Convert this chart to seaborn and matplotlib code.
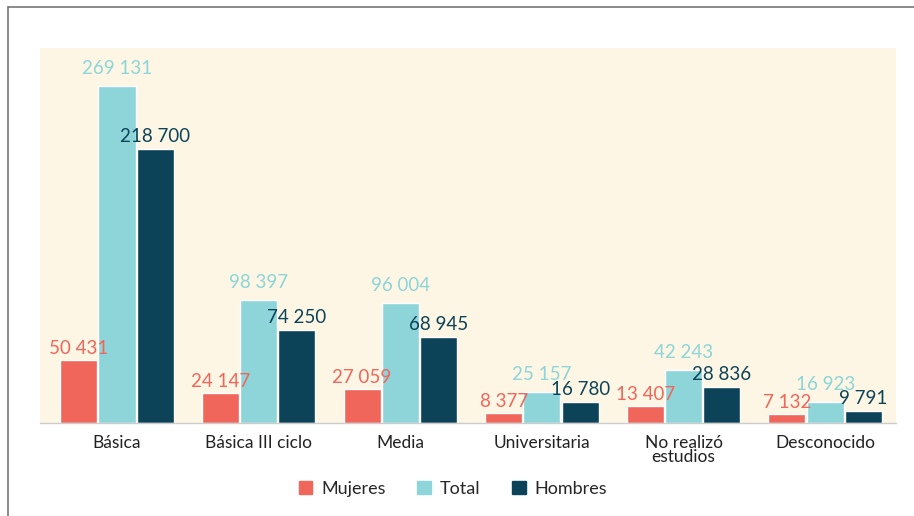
import pandas as pd
import matplotlib.pyplot as plt
import seaborn as sns
from matplotlib.patches import Rectangle

# data
categorias = ["Básica", "Básica III ciclo", "Media", "Universitaria",
              "No realizó\nestudios", "Desconocido"]
mujeres = [50431, 24147, 27059, 8377, 13407, 7132]
total = [269131, 98397, 96004, 25157, 42243, 16923]
hombres = [218700, 74250, 68945, 16780, 28836, 9791]
series = ["Mujeres", "Total", "Hombres"]
colores = ["#F0665A", "#8DD5D8", "#0D4359"]
# gap (px) between label baseline and bar top, per serie
separacion = [6, 12, 7]


def fmt(v):
    return f"{int(v):,}".replace(",", " ")


def main():
    df = pd.DataFrame({"Nivel": categorias * 3,
                       "Serie": [s for s in series for _ in categorias],
                       "Valor": mujeres + total + hombres})

    sns.set_theme(style="white")
    plt.rcParams["font.family"] = ["Lato", "DejaVu Sans"]

    fig = plt.figure(figsize=(9.14, 5.16), dpi=100)
    ax = fig.add_axes([40 / 914, 1 - 423 / 516, 856 / 914, 375 / 516])
    ax.set_facecolor("#FDF6E4")

    sns.barplot(data=df, x="Nivel", y="Valor", hue="Serie", hue_order=series,
                palette=colores, width=0.81, gap=0.03, saturation=1,
                legend=False, ax=ax)

    for cont, col, sep in zip(ax.containers, colores, separacion):
        for b in cont:
            ax.annotate(fmt(b.get_height()),
                        (b.get_x() + b.get_width() / 2, b.get_height()),
                        xytext=(0, sep * 0.72), textcoords="offset points",
                        ha="center", va="baseline", color=col, fontsize=13.5)

    ax.set_ylim(0, 299500)
    ax.set_xlim(-0.544, 5.5)
    ax.set_xlabel("")
    ax.set_ylabel("")
    ax.set_yticks([])
    ax.tick_params(axis="x", length=0, labelsize=12.5, colors="#222222", pad=9)
    for lbl in ax.get_xticklabels():
        lbl.set_linespacing(0.8)
        lbl.set_verticalalignment("top")
    for side in ["top", "left", "right"]:
        ax.spines[side].set_visible(False)
    ax.spines["bottom"].set_color("#CCCCCC")
    ax.spines["bottom"].set_linewidth(1)

    handles = [Rectangle((0, 0), 1, 1, color=c) for c in colores]
    fig.legend(handles, series, loc="center", bbox_to_anchor=(453 / 914, 1 - 489 / 516),
               ncol=3, frameon=False, fontsize=13, handlelength=0.75,
               handleheight=0.75, handletextpad=0.5, columnspacing=1.75)

    # frame of the original page
    fig.add_artist(plt.Line2D([8 / 914, 8 / 914], [0, 1 - 7 / 516],
                              color="#777777", lw=1.2, transform=fig.transFigure))
    fig.add_artist(plt.Line2D([8 / 914, 1], [1 - 7 / 516, 1 - 7 / 516],
                              color="#777777", lw=1.2, transform=fig.transFigure))

    fig.savefig("out.png", dpi=100, facecolor="white")


if __name__ == "__main__":
    main()
